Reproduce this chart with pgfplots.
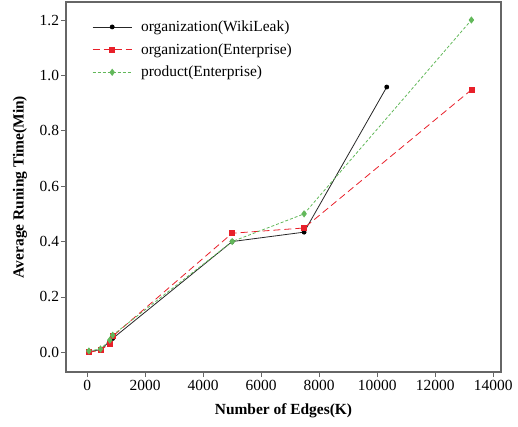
\documentclass[border=0pt]{standalone}
\usepackage{pgfplots}
\pgfplotsset{compat=1.18}
\usepackage{fontspec}
\setmainfont{Liberation Serif}
\definecolor{myred}{HTML}{E8202A}
\definecolor{mygreen}{HTML}{62B85A}
\definecolor{frame}{HTML}{666666}
\begin{document}
\begin{tikzpicture}
\begin{axis}[
  scale only axis,
  width=435bp, height=370bp,
  xmin=-730, xmax=14270,
  ymin=-0.071, ymax=1.265,
  xtick={0,2000,4000,6000,8000,10000,12000,14000},
  ytick={0,0.2,0.4,0.6,0.8,1.0,1.2},
  yticklabel style={xshift=1.5bp, /pgf/number format/.cd,fixed,fixed zerofill,precision=1},
  xticklabel style={/pgf/number format/.cd,1000 sep={}},
  /pgf/number format/assume math mode=true,
  scaled x ticks=false,
  tick align=outside,
  xtick pos=bottom, ytick pos=left,
  major tick length=5bp,
  axis line style={frame, line width=1.1pt},
  tick style={frame, line width=0.8pt},
  ticklabel style={font=\fontsize{15.5}{18}\selectfont},
  xlabel={\textbf{Number of Edges(K)}},
  ylabel={\textbf{Average Runing Time(Min)}},
  label style={font=\fontsize{15.5}{18}\selectfont},
  xlabel style={at={(axis description cs:0.5,-0.104)}, anchor=center},
  ylabel style={at={(axis description cs:-0.1057,0.5)}, anchor=center},
  legend style={draw=none, fill=none, at={(axis description cs:0.06,0.955)}, anchor=north west,
    font=\fontsize{15.5}{18}\selectfont, row sep=6.5bp, inner sep=0pt},
  legend cell align=left,
  legend image code/.code={\draw[mark repeat=2,mark phase=2,#1] plot coordinates {(0bp,0bp) (19.5bp,0bp) (39bp,0bp)};\path (46bp,0bp);},
]
\addplot[black!85, line width=0.8pt, mark=*, mark size=2pt, mark options={black}] coordinates {
(60,0.002) (460,0.01) (780,0.04) (880,0.05) (5000,0.40) (7480,0.434) (10330,0.958)};
\addlegendentry{organization(WikiLeak)}
\addplot[myred, line width=0.8pt, dash pattern=on 7pt off 4pt, mark=square*, mark size=2.5pt, mark options={solid}] coordinates {
(60,0.0) (460,0.008) (780,0.032) (880,0.058) (5000,0.43) (7480,0.449) (13250,0.948)};
\addlegendentry{organization(Enterprise)}
\addplot[mygreen, line width=0.8pt, dash pattern=on 3pt off 2pt, mark=diamond*, mark size=3pt, mark options={solid}] coordinates {
(60,0.005) (460,0.012) (780,0.044) (880,0.062) (5000,0.40) (7480,0.50) (13250,1.20)};
\addlegendentry{product(Enterprise)}
\end{axis}
\pgfresetboundingbox
\path[use as bounding box] (current axis.south west) ++(-66bp,-55bp) rectangle ([shift={(17bp,2bp)}]current axis.north east);
\end{tikzpicture}
\end{document}
